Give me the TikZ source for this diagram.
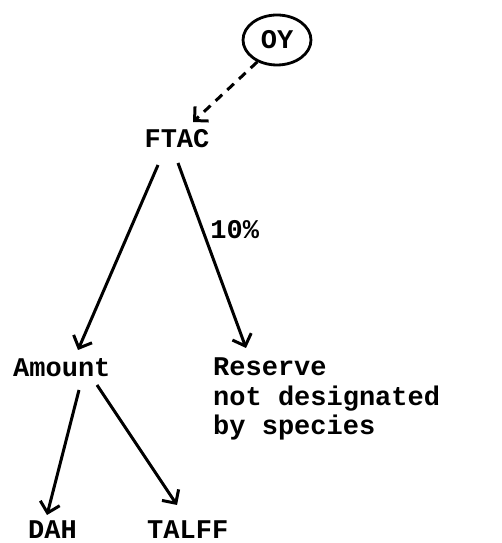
\documentclass[tikz,border=0pt]{standalone}
\usepackage{fontspec}
\setmonofont{Liberation Mono}
\usetikzlibrary{arrows.meta,shapes.geometric}
\begin{document}
\begin{tikzpicture}[x=1pt,y=1pt,
  txt/.style={inner sep=0pt, font=\fontsize{27}{29.5}\selectfont\ttfamily\bfseries},
  conn/.style={line width=3pt, -{Straight Barb[length=10pt,width=20pt,line width=3pt]}},
  dashconn/.style={conn, dash pattern=on 9pt off 7pt}]
\useasboundingbox (0,0) rectangle (501,543);
\node[txt, draw, line width=2.8pt, ellipse, minimum width=68pt, minimum height=50pt] (oy) at (277,503) {OY};
\node[txt, anchor=base] (ftac) at (177,395) {FTAC};
\node[txt, anchor=base west] (amount) at (13,166) {Amount};
\node[txt, anchor=base west] (reserve) at (213,167) {Reserve};
\node[txt, anchor=base west] (reserve2) at (213,137) {not designated};
\node[txt, anchor=base west] (reserve3) at (213,108) {by species};
\node[txt, anchor=base west] (dah) at (28,5) {DAH};
\node[txt, anchor=base west] (talff) at (147,5) {TALFF};
\draw[dashconn] (oy.-132) -- ([shift={(16,26)}]ftac.base);
\draw[conn] ([shift={(-19,-17)}]ftac.base) -- ([shift={(65,27)}]amount.base west);
\draw[conn] ([shift={(1,-15)}]ftac.base) -- node[txt, anchor=base west, pos=0.41, xshift=3pt] (pct) {10\%} ([shift={(33,28)}]reserve.base west);
\draw[conn] ([shift={(66,-13)}]amount.base west) -- ([shift={(19,23)}]dah.base west);
\draw[conn] ([shift={(84,-8)}]amount.base west) -- ([shift={(30,33)}]talff.base west);
\end{tikzpicture}
\end{document}
